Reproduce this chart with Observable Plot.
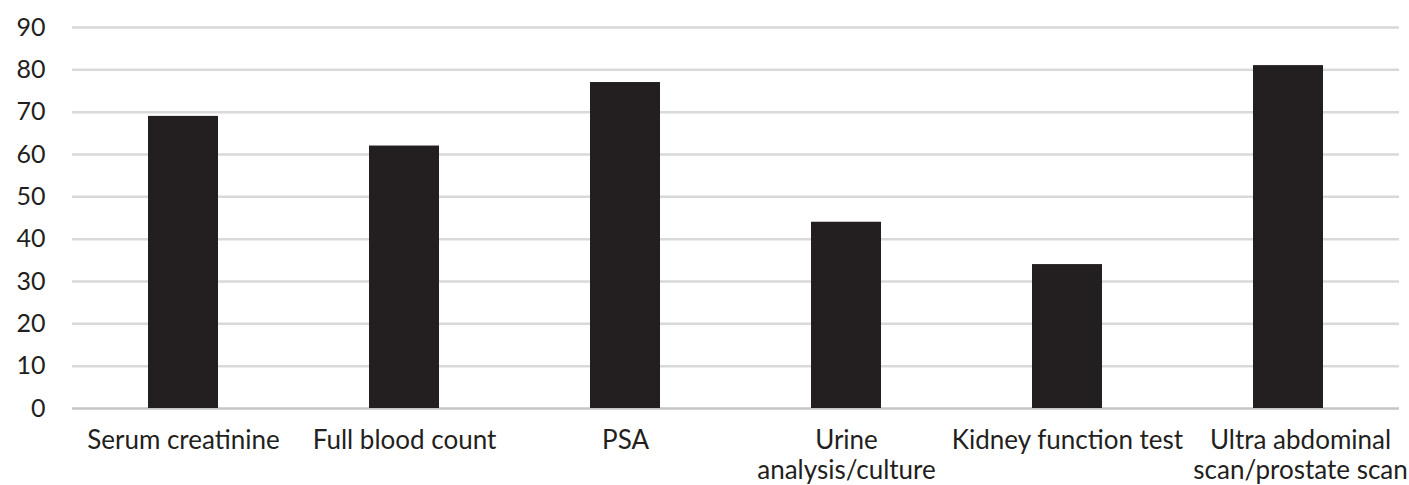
<!DOCTYPE html>
<html>
<head>
<meta charset="utf-8">
<script src="https://cdn.jsdelivr.net/npm/d3@7"></script>
<script src="https://cdn.jsdelivr.net/npm/@observablehq/plot@0.6"></script>
<style>
  html, body { margin: 0; padding: 0; background: #fff; }
  #chart svg { display: block; }
</style>
</head>
<body>
<div id="chart"></div>
<script>
const categories = ["Serum creatinine", "Full blood count", "PSA", "Urine analysis/culture", "Kidney function test", "Ultra abdominal scan/prostate scan"];
const labels = ["Serum creatinine", "Full blood count", "PSA", "Urine\nanalysis/culture", "Kidney function test", "Ultra abdominal\nscan/prostate scan"];
const values = [69, 62, 77, 44, 34, 81];
const yTicks = [0, 10, 20, 30, 40, 50, 60, 70, 80, 90];

const data = categories.map((c, i) => ({category: c, label: labels[i], value: values[i]}));
const labelOf = new Map(categories.map((c, i) => [c, labels[i]]));

const font = "Lato, 'Open Sans', sans-serif";
const chart = Plot.plot({
  width: 1409,
  height: 485,
  marginLeft: 72,
  marginRight: 10,
  marginTop: 27,
  marginBottom: 77,
  style: {fontFamily: font, fontSize: "26px", color: "#231f20", background: "#fff"},
  x: {domain: categories, paddingInner: 0.683, paddingOuter: 0.3415, label: null},
  y: {domain: [0, 90], label: null},
  marks: [
    Plot.gridY(yTicks.slice(1), {stroke: "#d9d9d9", strokeOpacity: 1, strokeWidth: 2.5}),
    Plot.ruleY([0], {stroke: "#c6c6c6", strokeWidth: 2.5}),
    Plot.barY(data, {x: "category", y: "value", fill: "#231f20", insetLeft: 0, insetRight: 0}),
    Plot.axisY(yTicks, {tickSize: 0, tickPadding: 27, fontSize: 25, fill: "#231f20", label: null}),
    Plot.axisX(categories.slice(0, 5), {tickSize: 0, tickPadding: 19, fontSize: 26, lineHeight: 1.15, fill: "#231f20", tickFormat: d => labelOf.get(d), label: null}),
    Plot.axisX(categories.slice(5), {tickSize: 0, tickPadding: 19, fontSize: 26, lineHeight: 1.15, dx: 12, fill: "#231f20", tickFormat: d => labelOf.get(d), label: null})
  ]
});
document.getElementById("chart").appendChild(chart);
</script>
</body>
</html>
